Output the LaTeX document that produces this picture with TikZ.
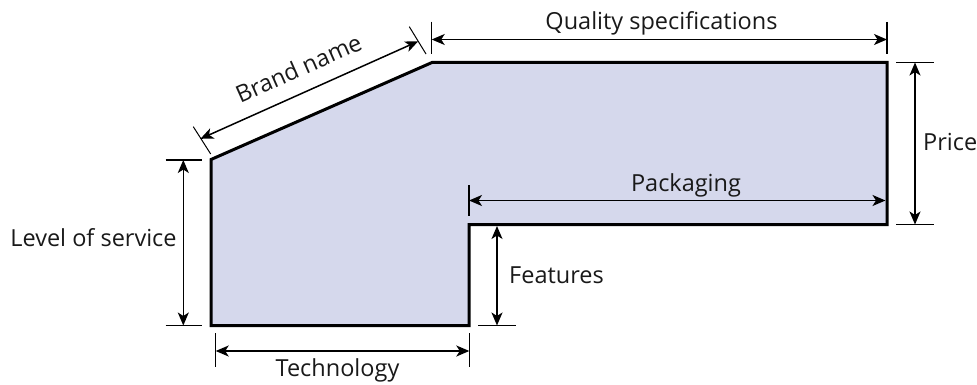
\documentclass[tikz,border=0pt]{standalone}
\usepackage{fontspec}
\setmainfont{Open Sans}
\usetikzlibrary{arrows.meta}
\definecolor{shapefill}{RGB}{213,216,236}
\begin{document}
\begin{tikzpicture}[x=1pt,y=-1pt,
  tip/.tip={Stealth[length=13pt,width=11pt,inset=3.5pt]},
  dimline/.style={line width=1.5pt,{tip}-{tip}},
  extline/.style={line width=1.5pt},
  outline/.style={draw=black,line width=3pt,fill=shapefill,line join=miter},
  lbl/.style={font=\fontsize{23.5}{28}\selectfont,inner sep=0pt,text=black!90}]
\useasboundingbox (0,0) rectangle (977,385);

% product outline
\coordinate (A) at (211,159.5);
\coordinate (B) at (432,62.5);
\coordinate (C) at (887,62.5);
\coordinate (D) at (887,224.5);
\coordinate (E) at (469,224.5);
\coordinate (F) at (469,325.5);
\coordinate (G) at (211,325.5);
\draw[outline] (A) -- (B) -- (C) -- (D) -- (E) -- (F) -- (G) -- cycle;

% brand name (along the slanted edge)
\coordinate (bn1a) at (193.3,126.7);
\coordinate (bn1b) at (210.7,154);
\coordinate (bn2a) at (409.3,26.7);
\coordinate (bn2b) at (426,54);
\coordinate (bnL) at (200.4,138.8);
\coordinate (bnR) at (418.2,41.3);
\draw[extline,line width=1pt] (bn1a) -- (bn1b);
\draw[extline,line width=1pt] (bn2a) -- (bn2b);
\draw[dimline] (bnL) -- (bnR);
\node[lbl,anchor=base,rotate=23.9] (brand) at (302,76) {Brand name};

% quality specifications
\coordinate (q1a) at (431.7,21.7);
\coordinate (q1b) at (431.7,54);
\coordinate (q2a) at (887,22);
\coordinate (q2b) at (887,54);
\coordinate (qL) at (431.7,39.5);
\coordinate (qR) at (887,39.5);
\draw[extline] (q1a) -- (q1b);
\draw[extline] (q2a) -- (q2b);
\draw[dimline] (qL) -- (qR);
\node[lbl,anchor=base] (quality) at (661.5,30) {Quality specifications};

% price
\coordinate (p1a) at (896,62.5);
\coordinate (p1b) at (934,62.5);
\coordinate (p2a) at (896,224.5);
\coordinate (p2b) at (934,224.5);
\coordinate (pT) at (915,62.5);
\coordinate (pB) at (915,224.5);
\draw[extline] (p1a) -- (p1b);
\draw[extline] (p2a) -- (p2b);
\draw[dimline] (pT) -- (pB);
\node[lbl,anchor=base west] (price) at (923,150) {Price};

% packaging
\coordinate (k1a) at (469,185);
\coordinate (k1b) at (469,216);
\coordinate (kL) at (469,200.5);
\coordinate (kR) at (885.5,200.5);
\draw[extline] (k1a) -- (k1b);
\draw[dimline] (kL) -- (kR);
\node[lbl,anchor=base] (packaging) at (686,191.7) {Packaging};

% features
\coordinate (f1a) at (478,325.5);
\coordinate (f1b) at (516,325.5);
\coordinate (fT) at (497,226);
\coordinate (fB) at (497,325.5);
\draw[extline] (f1a) -- (f1b);
\draw[dimline] (fT) -- (fB);
\node[lbl,anchor=base west] (features) at (509,283.3) {Features};

% level of service
\coordinate (s1a) at (165.7,160);
\coordinate (s1b) at (201.7,160);
\coordinate (s2a) at (165.7,325.5);
\coordinate (s2b) at (201.7,325.5);
\coordinate (sT) at (183.3,160);
\coordinate (sB) at (183.3,325.5);
\draw[extline] (s1a) -- (s1b);
\draw[extline] (s2a) -- (s2b);
\draw[dimline] (sT) -- (sB);
\node[lbl,anchor=base] (service) at (93.5,246.7) {Level of service};

% technology
\coordinate (t1a) at (215.7,333);
\coordinate (t1b) at (215.7,366.7);
\coordinate (t2a) at (469.3,333);
\coordinate (t2b) at (469.3,366.7);
\coordinate (tL) at (215.7,351);
\coordinate (tR) at (469.3,351);
\draw[extline] (t1a) -- (t1b);
\draw[extline] (t2a) -- (t2b);
\draw[dimline] (tL) -- (tR);
\node[lbl,anchor=base] (technology) at (337.5,376.7) {Technology};
\end{tikzpicture}
\end{document}
